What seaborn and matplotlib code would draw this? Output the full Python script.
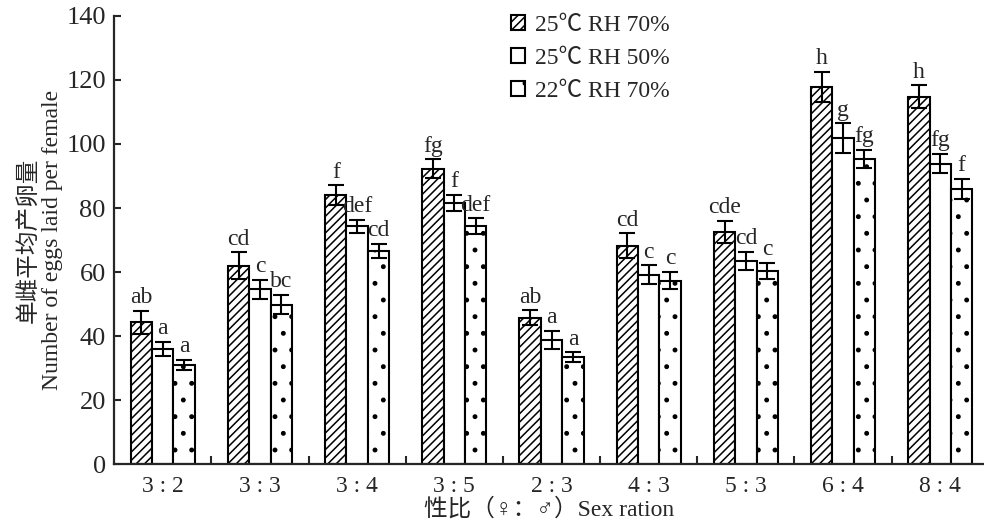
import matplotlib
matplotlib.use("Agg")
import matplotlib.pyplot as plt
import pandas as pd
import seaborn as sns
from matplotlib.patches import Patch
from matplotlib.ticker import MultipleLocator

# ==============================================================================
# 1. Data
# ==============================================================================
ratios = ["3 : 2", "3 : 3", "3 : 4", "3 : 5", "2 : 3", "4 : 3", "5 : 3", "6 : 4", "8 : 4"]
series = ["25℃ RH 70%", "25℃ RH 50%", "22℃ RH 70%"]

mean_25_70 = [44.3, 62.0, 84.0, 92.3, 45.8, 68.3, 72.6, 117.8, 114.7]
mean_25_50 = [36.0, 54.6, 74.3, 81.6, 38.9, 59.2, 63.5, 101.8, 93.9]
mean_22_70 = [31.0, 49.9, 66.6, 74.4, 33.5, 57.4, 60.4, 95.3, 86.0]

err_25_70 = [3.6, 4.2, 3.1, 2.9, 2.3, 3.8, 3.5, 4.7, 3.6]
err_25_50 = [2.2, 2.9, 2.0, 2.4, 2.8, 2.9, 2.8, 4.6, 2.9]
err_22_70 = [1.6, 2.9, 2.3, 2.4, 1.5, 2.8, 2.6, 2.9, 3.1]

sig_25_70 = ["ab", "cd", "f", "fg", "ab", "cd", "cde", "h", "h"]
sig_25_50 = ["a", "c", "def", "f", "a", "c", "cd", "g", "fg"]
sig_22_70 = ["a", "bc", "cd", "def", "a", "c", "c", "fg", "f"]

means = [mean_25_70, mean_25_50, mean_22_70]
errs = [err_25_70, err_25_50, err_22_70]
sigs = [sig_25_70, sig_25_50, sig_22_70]
hatches = ["////", "", "."]

df = pd.DataFrame(
    {
        "ratio": ratios * 3,
        "group": [s for s in series for _ in ratios],
        "eggs": mean_25_70 + mean_25_50 + mean_22_70,
    }
)

# ==============================================================================
# 2. Styling
# ==============================================================================
sns.set_style("ticks")
plt.rcParams["font.family"] = ["Liberation Serif", "Noto Sans CJK SC", "DejaVu Sans"]
plt.rcParams["hatch.linewidth"] = 1.1
plt.rcParams["axes.linewidth"] = 1.6

fig = plt.figure(figsize=(9.84, 5.26), dpi=100)
ax = fig.add_axes([0.116, 0.117, 0.884, 0.853])

# ==============================================================================
# 3. Grouped bars
# ==============================================================================
sns.barplot(
    data=df,
    x="ratio",
    y="eggs",
    hue="group",
    order=ratios,
    hue_order=series,
    width=0.66,
    palette=["white"] * 3,
    edgecolor="black",
    linewidth=1.5,
    errorbar=None,
    legend=False,
    ax=ax,
)

bars = [p for p in ax.patches]
for k in range(3):
    for i in range(len(ratios)):
        p = bars[k * len(ratios) + i]
        p.set_hatch(hatches[k])
        p.set_facecolor("white")
        p.set_edgecolor("black")
        xc = p.get_x() + p.get_width() / 2
        top = means[k][i] + errs[k][i]
        ax.errorbar(
            xc, means[k][i], yerr=errs[k][i],
            fmt="none", ecolor="black", elinewidth=1.5, capsize=5.5, capthick=1.5,
        )
        ax.annotate(
            sigs[k][i], (xc, top), xytext=(0, 2), textcoords="offset points",
            ha="center", va="bottom", fontsize=17,
        )

# ==============================================================================
# 4. Axes, ticks, labels
# ==============================================================================
ax.set_ylim(0, 140)
ax.set_xlim(-0.5, 8.45)
ax.yaxis.set_major_locator(MultipleLocator(20))
ax.tick_params(axis="y", direction="in", length=5, width=1.5, labelsize=19, pad=6)
ax.tick_params(axis="x", which="major", length=0, labelsize=17, pad=8)
ax.set_xticks([i + 0.5 for i in range(len(ratios) - 1)], minor=True)
ax.tick_params(axis="x", which="minor", direction="in", length=6, width=1.5)
sns.despine(ax=ax)

ax.set_xlabel("性比（♀：♂）Sex ration", fontsize=17, labelpad=1)
ax.set_ylabel("单雌平均产卵量\nNumber of eggs laid per female", fontsize=17, labelpad=2,
              linespacing=1.1)

handles = [Patch(facecolor="white", edgecolor="black", hatch=h, linewidth=1.5) for h in hatches]
fig.legend(
    handles, series, loc="upper left", bbox_to_anchor=(0.498, 1.012),
    frameon=False, fontsize=17, handlelength=0.6, handleheight=0.6,
    handletextpad=0.4, labelspacing=0.5,
)

fig.savefig("out.png", dpi=100)
